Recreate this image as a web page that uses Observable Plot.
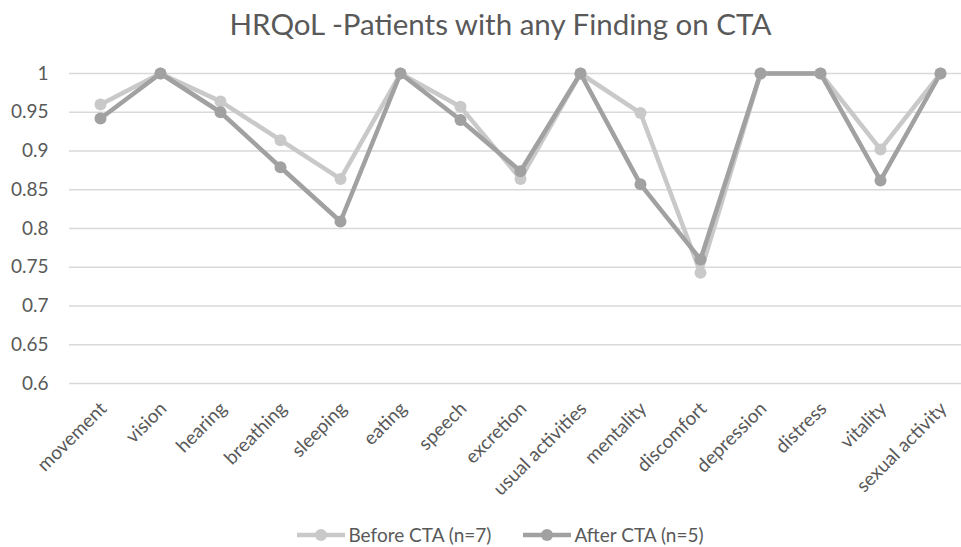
<!DOCTYPE html>
<html>
<head>
<meta charset="utf-8">
<script src="https://cdn.jsdelivr.net/npm/d3@7"></script>
<script src="https://cdn.jsdelivr.net/npm/@observablehq/plot@0.6"></script>
<style>
  body { margin: 0; background: #fff; font-family: Lato, "Open Sans", sans-serif; }
  #wrap { width: 961px; height: 547px; position: relative; overflow: hidden; }
  #title { position: absolute; top: 6px; left: 20px; width: 961px; text-align: center; font-size: 29.5px; color: #595959; white-space: nowrap; }
  #chart { position: absolute; top: 60px; left: 0; }
  #legend { position: absolute; top: 523px; left: 20px; width: 961px; display: flex; justify-content: center; gap: 32px; font-size: 19px; color: #595959; line-height: 23px; }
  .item { display: flex; align-items: center; gap: 3px; }
</style>
</head>
<body>
<div id="wrap">
  <div id="title">HRQoL -Patients with any Finding on CTA</div>
  <div id="chart"></div>
  <div id="legend"></div>
</div>
<script>
const categories = ["movement","vision","hearing","breathing","sleeping","eating","speech","excretion","usual activities","mentality","discomfort","depression","distress","vitality","sexual activity"];
const before = [0.960, 1, 0.964, 0.914, 0.864, 1, 0.957, 0.864, 1, 0.949, 0.743, 1, 1, 0.902, 1];
const after  = [0.942, 1, 0.950, 0.879, 0.809, 1, 0.940, 0.874, 1, 0.857, 0.760, 1, 1, 0.862, 1];
const seriesNames = ["Before CTA (n=7)", "After CTA (n=5)"];
const seriesColors = ["#c8c9c8", "#a0a1a0"];
const yTicks = [0.6, 0.65, 0.7, 0.75, 0.8, 0.85, 0.9, 0.95, 1];

const data = [];
[before, after].forEach((vals, s) => vals.forEach((v, i) => data.push({series: seriesNames[s], cat: categories[i], v})));

const chart = Plot.plot({
  width: 961,
  height: 440,
  marginLeft: 69,
  marginRight: 0,
  marginTop: 13,
  marginBottom: 117,
  style: {fontFamily: "Lato, 'Open Sans', sans-serif", fontSize: "19px", color: "#595959", background: "transparent", overflow: "visible"},
  x: {type: "point", domain: categories, padding: 0, insetLeft: 30, insetRight: 20},
  y: {domain: [0.6, 1]},
  color: {domain: seriesNames, range: seriesColors},
  marks: [
    Plot.gridY(yTicks, {stroke: "#d9d9d9", strokeOpacity: 1, strokeWidth: 1.3}),
    Plot.axisY(yTicks, {tickSize: 0, tickPadding: 21, tickFormat: d => String(+d.toFixed(2)), fill: "#595959", fontSize: 19, label: null}),
    Plot.axisX({tickSize: 0, tickRotate: -45, tickPadding: 14, dy: 8, dx: 3, fill: "#595959", fontSize: 19, label: null}),
    Plot.line(data, {x: "cat", y: "v", z: "series", stroke: "series", strokeWidth: 4.5}),
    Plot.dot(data, {x: "cat", y: "v", fill: "series", r: 6})
  ]
});
document.getElementById("chart").appendChild(chart);

const legend = document.getElementById("legend");
seriesNames.forEach((n, i) => {
  const item = document.createElement("div");
  item.className = "item";
  item.innerHTML = `<svg width="48" height="14"><line x1="0" y1="7" x2="48" y2="7" stroke="${seriesColors[i]}" stroke-width="4.5"/><circle cx="24" cy="7" r="6" fill="${seriesColors[i]}"/></svg><span>${n}</span>`;
  legend.appendChild(item);
});
</script>
</body>
</html>
